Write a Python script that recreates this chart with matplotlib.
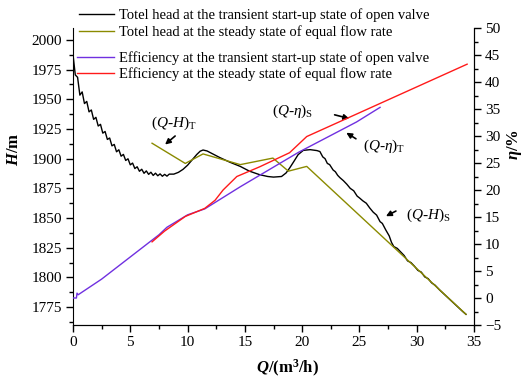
import matplotlib
matplotlib.use("Agg")
import matplotlib.pyplot as plt
from matplotlib.ticker import MultipleLocator

plt.rcParams['font.family'] = ['Liberation Serif', 'DejaVu Serif']
plt.rcParams['mathtext.fontset'] = 'custom'
plt.rcParams['mathtext.rm'] = 'Liberation Serif'
plt.rcParams['mathtext.it'] = 'Liberation Serif:italic'
plt.rcParams['mathtext.bf'] = 'Liberation Serif:bold'
plt.rcParams['mathtext.bfit'] = 'Liberation Serif:italic:bold'

# ---- data ----
q_head_transient = [0.0, 0.2, 0.4, 0.6, 0.8, 1.0, 1.2, 1.4, 1.6, 1.8, 2.0, 2.2, 2.4, 2.6, 2.8,
                    3.0, 3.2, 3.4, 3.6, 3.8, 4.0, 4.2, 4.4, 4.6, 4.8, 5.0, 5.2, 5.4, 5.6, 5.8,
                    6.0, 6.2, 6.4, 6.6, 6.8, 7.0, 7.2, 7.4, 7.6, 7.8, 8.0, 8.2, 8.4,
                    8.8, 9.2, 9.6, 10.0, 10.4, 10.8, 11.1, 11.35, 11.7, 12.2, 12.8, 13.7,
                    14.6, 15.4, 16.3, 17.0, 17.5, 18.2, 18.6, 18.9, 19.3, 19.65, 20.1, 20.7,
                    21.3, 21.55, 21.8, 22.0, 22.2, 22.4, 22.7, 22.9, 23.1, 23.3, 23.6, 23.9,
                    24.2, 24.5, 24.8, 25.0, 25.3, 25.6, 25.9, 26.2, 26.5, 26.8, 27.0, 27.3,
                    27.6, 27.8, 28.0, 28.3, 28.6, 28.9, 29.2, 29.5, 29.8, 30.1, 30.4, 30.7,
                    31.0, 31.3, 31.6, 32.0, 32.5, 33.0, 33.5, 34.0, 34.3]
h_transient = [1987.5, 1970.5, 1968.5, 1953.5, 1956.2, 1946.4, 1948.2, 1939.4, 1941.0, 1933.1,
               1934.8, 1927.5, 1928.9, 1921.5, 1922.9, 1916.2, 1917.4, 1910.8, 1912.0, 1905.8,
               1907.5, 1902.1, 1903.6, 1898.5, 1899.9, 1894.8, 1896.3, 1891.7, 1893.2, 1889.4,
               1891.1, 1887.7, 1889.7, 1886.8, 1888.6, 1885.9, 1887.8, 1885.6, 1887.2, 1885.2,
               1886.8, 1885.3, 1887.0,
               1887.0, 1888.5, 1891.0, 1894.5, 1899.0, 1903.5, 1906.3, 1907.3, 1906.5, 1904.0,
               1901.0, 1897.0, 1893.5, 1889.5, 1886.5, 1885.0, 1884.5, 1885.0, 1888.0, 1892.0,
               1898.0, 1903.4, 1907.0, 1907.6, 1906.8, 1906.0, 1901.5, 1900.0, 1896.0, 1895.0,
               1890.5, 1889.0, 1886.0, 1884.0, 1881.5, 1878.5, 1875.0, 1873.0, 1868.5, 1867.0,
               1864.5, 1862.5, 1858.5, 1855.0, 1852.5, 1847.0, 1845.5, 1840.0, 1835.0, 1829.5,
               1826.0, 1824.5, 1821.5, 1818.5, 1814.0, 1812.5, 1809.5, 1806.0, 1804.5, 1800.5,
               1799.0, 1795.5, 1793.5, 1789.5, 1785.0, 1780.5, 1776.0, 1771.5, 1769.0]

q_head_steady = [6.9, 9.8, 11.35, 14.6, 17.45, 18.8, 20.4, 34.3]
h_steady = [1913.0, 1896.0, 1904.0, 1895.0, 1900.5, 1889.5, 1893.5, 1769.0]

q_eff_transient = [0.0, 0.3, 0.35, 0.45, 2.5, 5.0, 7.5, 8.2, 10.0, 11.5, 14.6, 19.7, 24.75, 26.8]
eff_transient = [0.0, 0.0, 0.9, 0.6, 3.5, 7.6, 11.7, 13.1, 15.4, 16.5, 20.6, 27.0, 32.6, 35.3]

q_eff_steady = [6.9, 8.0, 9.8, 11.5, 12.4, 13.1, 14.3, 16.3, 18.9, 20.4, 34.4]
eff_steady = [10.4, 12.4, 15.1, 16.6, 18.1, 20.0, 22.5, 24.3, 26.9, 29.9, 43.3]

labels = ["Totel head at the transient start-up state of open valve",
          "Totel head at the steady state of equal flow rate",
          "Efficiency at the transient start-up state of open valve",
          "Efficiency at the steady state of equal flow rate"]

# ---- figure ----
W, H = 529, 381
fig = plt.figure(figsize=(W / 100, H / 100), dpi=100)
ax = fig.add_axes([73 / W, 1 - 325 / H, (474 - 73) / W, (325 - 28) / H])
ax2 = ax.twinx()

l1, = ax.plot(q_head_transient, h_transient, color='black', lw=1.0)
l2, = ax.plot(q_head_steady, h_steady, color='#8a8a00', lw=1.0)
l3, = ax2.plot(q_eff_transient, eff_transient, color='#7030e0', lw=1.0)
l4, = ax2.plot(q_eff_steady, eff_steady, color='#ff1a1a', lw=1.0)

ax.set_xlim(0, 35)
ax.set_ylim(1760, 2010)
ax2.set_ylim(-5, 50)

ax.xaxis.set_major_locator(MultipleLocator(5))
ax.xaxis.set_minor_locator(MultipleLocator(2.5))
ax.yaxis.set_minor_locator(MultipleLocator(12.5))
ax2.yaxis.set_major_locator(MultipleLocator(5))
ax2.yaxis.set_minor_locator(MultipleLocator(2.5))
ax.set_yticks([1775, 1800, 1825, 1850, 1875, 1900, 1925, 1950, 1975, 2000])

for a in (ax, ax2):
    a.spines['top'].set_visible(False)
    a.tick_params(which='major', length=5, width=1, labelsize=11, pad=3)
    a.tick_params(which='minor', length=3, width=1)
ax2.spines['left'].set_visible(False)

ax.set_xlabel(r'$\mathbfit{Q}$/(m$^\mathbf{3}$/h)', fontsize=12, fontweight='bold',
              va='center', ha='center')
ax.xaxis.set_label_coords(0.535, -0.145)
ax.set_ylabel(r'$\mathbfit{H}$/m', fontsize=12, fontweight='bold', va='center', ha='center')
ax.yaxis.set_label_coords(-0.147, 0.59)
ax2.set_ylabel(r'$\mathbfit{\eta}$/%', fontsize=12, fontweight='bold', va='center', ha='center')
ax2.yaxis.set_label_coords(1.1, 0.606)

leg1 = fig.legend([l1, l2], labels[:2], loc='upper left',
                  bbox_to_anchor=(79 / W, 1 - 8 / H), frameon=False, fontsize=10.5,
                  handlelength=2.4, handletextpad=0.35, labelspacing=0.25,
                  borderpad=0, borderaxespad=0)
leg2 = fig.legend([l3, l4], labels[2:], loc='upper left',
                  bbox_to_anchor=(77 / W, 1 - 51 / H), frameon=False, fontsize=10.5,
                  handlelength=2.55, handletextpad=0.35, labelspacing=0.2,
                  borderpad=0, borderaxespad=0)

arrow = dict(arrowstyle='-|>', color='black', lw=1.2, mutation_scale=8)
ax.text(6.8, 1930, r'$(Q$-$H)_{\mathrm{T}}$', fontsize=11, va='center', ha='left')
ax.annotate('', xy=(7.85, 1910.4), xytext=(9.1, 1920.6), arrowprops=arrow)
ax.text(17.4, 1940, r'$(Q$-$\eta)_{\mathrm{S}}$', fontsize=11, va='center', ha='left')
ax.annotate('', xy=(24.35, 1933.2), xytext=(22.6, 1937.5), arrowprops=arrow)
ax.text(25.3, 1910.4, r'$(Q$-$\eta)_{\mathrm{T}}$', fontsize=11, va='center', ha='left')
ax.annotate('', xy=(23.65, 1923.1), xytext=(24.9, 1915.5), arrowprops=arrow)
ax.text(29.1, 1852, r'$(Q$-$H)_{\mathrm{S}}$', fontsize=11, va='center', ha='left')
ax.annotate('', xy=(27.1, 1850.5), xytext=(28.4, 1857), arrowprops=arrow)

fig.savefig('out.png', dpi=100)
